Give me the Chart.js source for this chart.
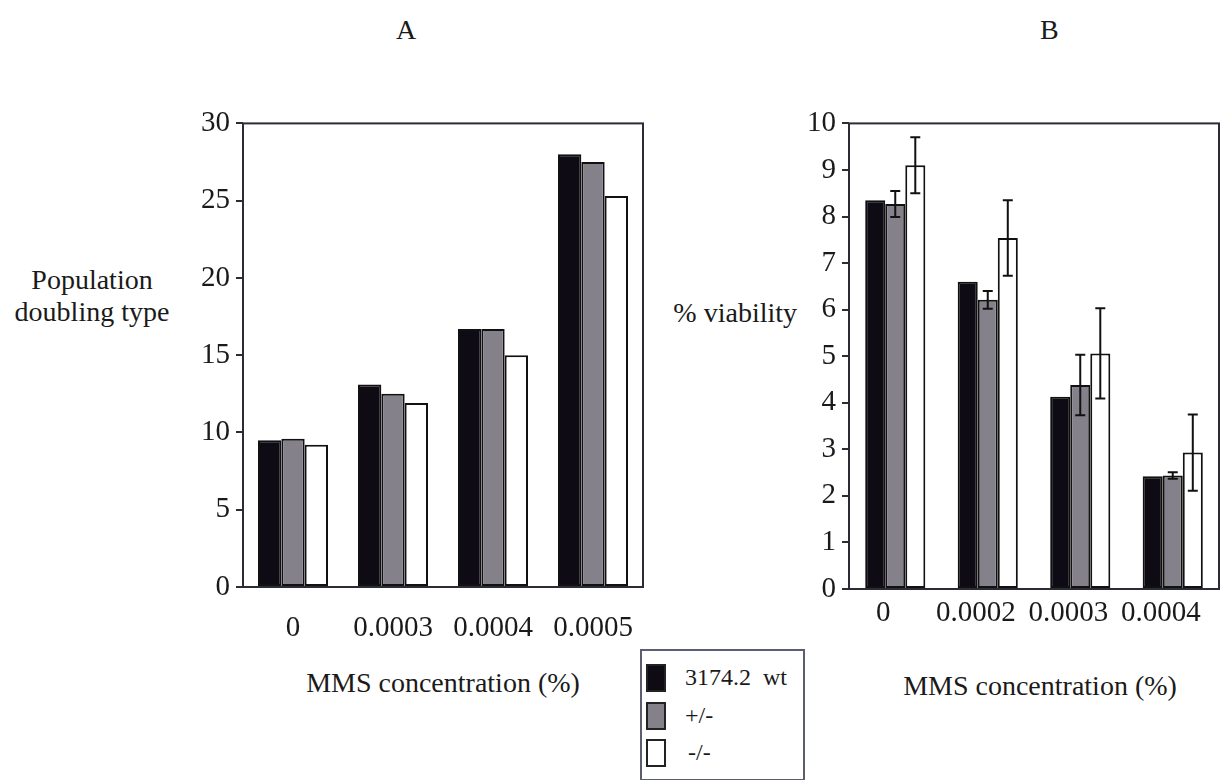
<!DOCTYPE html>
<html>
<head>
<meta charset="utf-8">
<script src="https://cdn.jsdelivr.net/npm/chart.js@4/dist/chart.umd.min.js"></script>
<style>
  body { margin: 0; background: #fff; width: 1226px; height: 780px; position: relative; overflow: hidden;
         font-family: "Liberation Serif", "DejaVu Serif", serif; color: #1a1a1a; }
  .txt { position: absolute; white-space: nowrap; font-size: 28px; line-height: 32px; }
  .box { position: absolute; }
  #legend { position: absolute; left: 640px; top: 649px; width: 161px; height: 128px;
            border: 2px solid #5a5e6e; background: #fff; }
  .item { position: absolute; left: 4px; height: 28px; font-size: 24px; }
  .sw { position: absolute; left: 0; top: 0; width: 16px; height: 24px; border: 2px solid #222; }
  .lbl { position: absolute; top: 0px; white-space: nowrap; line-height: 26px; }
</style>
</head>
<body>

<div class="txt" style="left:396px; top:14px;">A</div>
<div class="txt" style="left:1040px; top:14px;">B</div>

<div class="txt" style="left:12px; top:264px; width:160px; text-align:center;">Population<br>doubling type</div>
<div class="txt" style="left:597px; top:297px; width:200px; text-align:right;">% viability</div>

<div class="txt" style="left:293px; top:667px; width:300px; text-align:center;">MMS concentration (%)</div>
<div class="txt" style="left:890px; top:670px; width:300px; text-align:center;">MMS concentration (%)</div>

<div class="box" style="left:150px; top:100px; width:510px; height:560px;"><canvas id="chartA"></canvas></div>
<div class="box" style="left:760px; top:100px; width:466px; height:560px;"><canvas id="chartB"></canvas></div>

<div id="legend">
  <div class="item" style="top:13px;"><div class="sw" style="background:#0e0b15;"></div><div class="lbl" style="left:39px;">3174.2&nbsp;&nbsp;wt</div></div>
  <div class="item" style="top:51px;"><div class="sw" style="background:#85818b;"></div><div class="lbl" style="left:39px;">+/-</div></div>
  <div class="item" style="top:88px;"><div class="sw" style="background:#fff;"></div><div class="lbl" style="left:42px;">-/-</div></div>
</div>

<script>
// Panel A: population doubling
const categoriesA = ['0', '0.0003', '0.0004', '0.0005'];
const wtA = [9.5, 13.1, 16.7, 28.0];
const hetA = [9.6, 12.5, 16.7, 27.5];
const homA = [9.2, 11.9, 15.0, 25.3];

// Panel B: % viability with error bars
const categoriesB = ['0', '0.0002', '0.0003', '0.0004'];
const wtB = [8.35, 6.6, 4.13, 2.42];
const hetB = [8.27, 6.21, 4.38, 2.44];
const hetErrB = [0.28, 0.19, 0.65, 0.07];
const homB = [9.1, 7.54, 5.06, 2.93];
const homErrB = [0.6, 0.81, 0.97, 0.82];

const seriesNames = ['3174.2 wt', '+/-', '-/-'];
const fills = ['#0e0b15', '#85818b', '#ffffff'];
const frameColor = '#2c2c38';

// frame round the plot area
const framePlugin = {
  id: 'frame',
  afterDraw(chart) {
    const a = chart.chartArea, c = chart.ctx;
    c.save();
    c.strokeStyle = frameColor;
    c.lineWidth = 2;
    c.strokeRect(a.left, a.top, a.right - a.left, a.bottom - a.top);
    c.restore();
  }
};

// error bars, read from dataset.errors
const errorBarPlugin = {
  id: 'errorBars',
  afterDatasetsDraw(chart) {
    const c = chart.ctx, y = chart.scales.y;
    chart.data.datasets.forEach((ds, di) => {
      if (!ds.errors) return;
      const meta = chart.getDatasetMeta(di);
      meta.data.forEach((bar, i) => {
        const v = ds.data[i], e = ds.errors[i];
        const top = y.getPixelForValue(v + e), bot = y.getPixelForValue(v - e);
        c.save();
        c.strokeStyle = '#111';
        c.lineWidth = 2;
        c.beginPath();
        c.moveTo(bar.x, top); c.lineTo(bar.x, bot);
        c.moveTo(bar.x - 5, top); c.lineTo(bar.x + 5, top);
        c.moveTo(bar.x - 5, bot); c.lineTo(bar.x + 5, bot);
        c.stroke();
        c.restore();
      });
    });
  }
};

function makeDatasets(values, errs, catPct) {
  return values.map((vals, k) => ({
    label: seriesNames[k],
    data: vals,
    errors: errs ? errs[k] : null,
    backgroundColor: fills[k],
    borderColor: '#111',
    borderWidth: 2,
    borderSkipped: false,
    categoryPercentage: catPct,
    barPercentage: 1.0
  }));
}

function makeOptions(yMax, step, yWidth, xHeight, pad, xPad, labelOffset) {
  return {
    responsive: true,
    maintainAspectRatio: false,
    animation: false,
    layout: { padding: pad },
    plugins: { legend: { display: false }, tooltip: { enabled: false } },
    scales: {
      x: {
        grid: { display: false, drawTicks: false },
        border: { display: false },
        ticks: { color: '#1a1a1a', font: { family: 'Liberation Serif', size: 29 }, padding: xPad, labelOffset: labelOffset, maxRotation: 0 },
        afterFit: s => { s.height = xHeight; }
      },
      y: {
        min: 0,
        max: yMax,
        grid: { drawOnChartArea: false, drawTicks: true, tickLength: 7, color: frameColor, lineWidth: 2 },
        border: { display: false },
        ticks: { stepSize: step, color: '#1a1a1a', font: { family: 'Liberation Serif', size: 29 }, padding: 6 },
        afterFit: s => { s.width = yWidth; }
      }
    }
  };
}

new Chart(document.getElementById('chartA'), {
  type: 'bar',
  data: { labels: categoriesA, datasets: makeDatasets([wtA, hetA, homA], null, 0.7) },
  options: makeOptions(30, 5, 93, 73, { left: 0, right: 17, top: 23, bottom: 0 }, 24, 0),
  plugins: [framePlugin]
});

new Chart(document.getElementById('chartB'), {
  type: 'bar',
  data: { labels: categoriesB, datasets: makeDatasets([wtB, hetB, homB], [null, hetErrB, homErrB], 0.65) },
  options: makeOptions(10, 1, 89, 71, { left: 0, right: 7, top: 22, bottom: 0 }, 7, -12),
  plugins: [framePlugin, errorBarPlugin]
});
</script>
</body>
</html>
